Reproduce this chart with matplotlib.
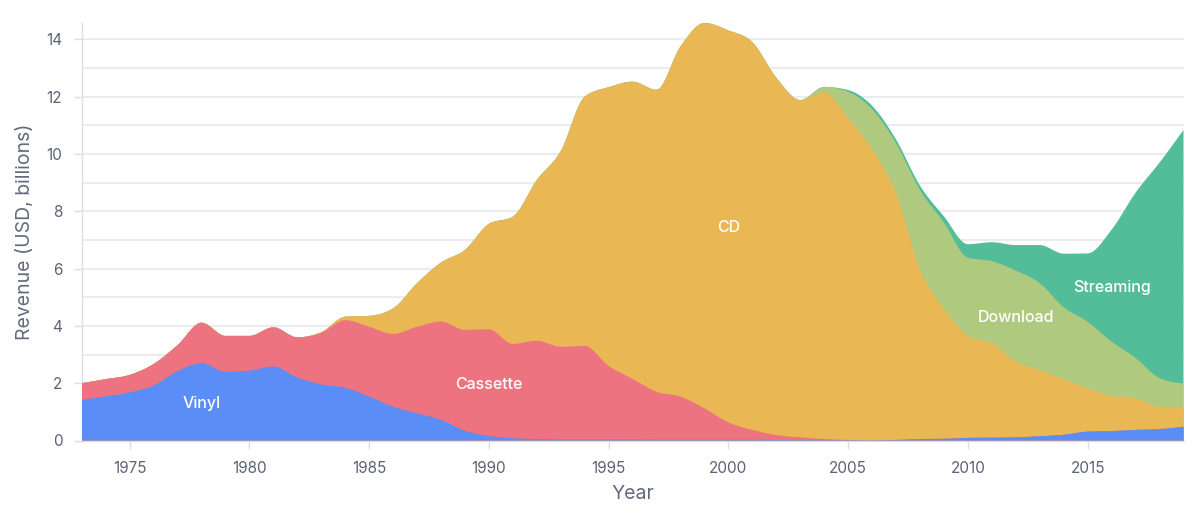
import numpy as np
import matplotlib
matplotlib.use("Agg")
import matplotlib.pyplot as plt

years = list(range(1973, 2020))

vinyl = [1.42, 1.54, 1.68, 1.92, 2.42, 2.70, 2.40, 2.44, 2.58, 2.20,
         1.96, 1.84, 1.53, 1.18, 0.95, 0.72, 0.34, 0.16, 0.08, 0.05,
         0.04, 0.04, 0.04, 0.04, 0.03, 0.03, 0.03, 0.03, 0.03, 0.02,
         0.02, 0.02, 0.01, 0.01, 0.02, 0.05, 0.06, 0.09, 0.10, 0.11,
         0.15, 0.20, 0.31, 0.33, 0.37, 0.40, 0.48]
cassette = [0.58, 0.60, 0.61, 0.75, 0.91, 1.41, 1.25, 1.21, 1.37, 1.40,
            1.80, 2.36, 2.44, 2.54, 3.02, 3.43, 3.52, 3.72, 3.29, 3.43,
            3.23, 3.26, 2.56, 2.11, 1.67, 1.50, 1.09, 0.60, 0.34, 0.17,
            0.09, 0.03, 0.01, 0.00, 0.00, 0.00, 0.00, 0.00, 0.00, 0.00,
            0.00, 0.00, 0.00, 0.00, 0.00, 0.00, 0.00]
cd = [0.00, 0.00, 0.00, 0.00, 0.00, 0.00, 0.00, 0.00, 0.00, 0.00,
      0.02, 0.12, 0.38, 0.89, 1.52, 2.06, 2.79, 3.68, 4.44, 5.61,
      6.83, 8.70, 9.73, 10.37, 10.54, 12.22, 13.45, 13.68, 13.53, 12.47,
      11.77, 12.09, 11.23, 10.14, 8.60, 5.90, 4.54, 3.56, 3.29, 2.64,
      2.31, 1.94, 1.51, 1.22, 1.10, 0.76, 0.67]
download = [0.00, 0.00, 0.00, 0.00, 0.00, 0.00, 0.00, 0.00, 0.00, 0.00,
            0.00, 0.00, 0.00, 0.00, 0.00, 0.00, 0.00, 0.00, 0.00, 0.00,
            0.00, 0.00, 0.00, 0.00, 0.00, 0.00, 0.00, 0.00, 0.00, 0.00,
            0.00, 0.20, 0.92, 1.41, 1.75, 2.79, 3.00, 2.73, 2.87, 3.18,
            3.03, 2.51, 2.32, 1.90, 1.41, 1.02, 0.84]
streaming = [0.00, 0.00, 0.00, 0.00, 0.00, 0.00, 0.00, 0.00, 0.00, 0.00,
             0.00, 0.00, 0.00, 0.00, 0.00, 0.00, 0.00, 0.00, 0.00, 0.00,
             0.00, 0.00, 0.00, 0.00, 0.00, 0.00, 0.00, 0.00, 0.00, 0.00,
             0.00, 0.00, 0.06, 0.12, 0.13, 0.15, 0.22, 0.47, 0.66, 0.89,
             1.33, 1.87, 2.39, 3.91, 5.77, 7.52, 8.85]

series_names = ["Vinyl", "Cassette", "CD", "Download", "Streaming"]
series_values = [vinyl, cassette, cd, download, streaming]
series_colors = ["#5a8df6", "#ed7380", "#e9b753", "#afca7e", "#53bc99"]
label_years = [1978, 1990, 2000, 2012, 2016]

x_ticks = [1975, 1980, 1985, 1990, 1995, 2000, 2005, 2010, 2015]
y_ticks = [0, 2, 4, 6, 8, 10, 12, 14]


def monotone_curve(x, y, n=40):
    """d3.curveMonotoneX-style rendering of a polyline."""
    x = np.asarray(x, float)
    y = np.asarray(y, float)
    m = len(x)
    h = np.diff(x)
    s = np.diff(y) / h
    t = np.zeros(m)
    for i in range(1, m - 1):
        s0, s1 = s[i - 1], s[i]
        h0, h1 = h[i - 1], h[i]
        p = (s0 * h1 + s1 * h0) / (h0 + h1)
        t[i] = (np.sign(s0) + np.sign(s1)) * min(abs(s0), abs(s1), 0.5 * abs(p))
    t[0] = (3 * s[0] - t[1]) / 2 if m > 2 else s[0]
    t[-1] = (3 * s[-1] - t[-2]) / 2 if m > 2 else s[-1]
    xs, ys = [], []
    for i in range(m - 1):
        u = np.linspace(0, 1, n, endpoint=(i == m - 2))
        dx = h[i]
        p0, p3 = y[i], y[i + 1]
        p1 = p0 + dx * t[i] / 3
        p2 = p3 - dx * t[i + 1] / 3
        xx = x[i] + u * dx
        yy = ((1 - u) ** 3) * p0 + 3 * ((1 - u) ** 2) * u * p1 + 3 * (1 - u) * u ** 2 * p2 + u ** 3 * p3
        xs.append(xx)
        ys.append(yy)
    return np.concatenate(xs), np.concatenate(ys)


plt.rcParams["font.family"] = ["Inter", "DejaVu Sans"]

fig = plt.figure(figsize=(12, 5.16), dpi=100)
ax = fig.add_axes([81.8 / 1200, 1 - 440.5 / 516, (1183.5 - 81.8) / 1200, (440.5 - 23) / 516])

cum = np.zeros(len(years))
bounds = [cum.copy()]
for vals in series_values:
    cum = cum + np.asarray(vals, float)
    bounds.append(cum.copy())

curves = [monotone_curve(years, b) for b in bounds]
# draw from the top series down, each filled from the baseline, so no seams appear
for k in range(len(series_names) - 1, -1, -1):
    xs, hi = curves[k + 1]
    ax.fill_between(xs, 0, hi, facecolor=series_colors[k], edgecolor="none",
                    linewidth=0, zorder=2 + (len(series_names) - k) * 0.01,
                    label=series_names[k])

for k, (name, ly) in enumerate(zip(series_names, label_years)):
    i = years.index(ly)
    mid = (bounds[k][i] + bounds[k + 1][i]) / 2
    ax.text(ly, mid, name, color="white", fontsize=11.5, fontweight="medium",
            ha="center", va="center_baseline", zorder=3)

ax.set_xlim(years[0], years[-1])
ax.set_ylim(0, bounds[-1].max())
ax.set_xticks(x_ticks)
ax.set_yticks(y_ticks)
ax.set_yticks([1, 3, 5, 7, 9, 11, 13], minor=True)
ax.yaxis.grid(True, which="both", color="#e8e8f0", linewidth=1.2, zorder=0)
ax.set_axisbelow(True)

tick_col = "#5c6375"
ax.tick_params(axis="both", which="major", length=6, width=1, color="#dcdde6",
               labelcolor=tick_col, labelsize=11)
ax.tick_params(axis="y", which="major", pad=8)
ax.tick_params(axis="x", which="major", pad=9)
ax.tick_params(which="minor", length=0)

for side in ["top", "right"]:
    ax.spines[side].set_visible(False)
for side in ["left", "bottom"]:
    ax.spines[side].set_color("#dcdde6")
    ax.spines[side].set_linewidth(1)
    ax.spines[side].set_zorder(1)

ax.set_xlabel("Year", fontsize=14, color="#636a7c")
ax.set_ylabel("Revenue (USD, billions)", fontsize=14, color="#636a7c")
ax.xaxis.set_label_coords(0.5, (440.5 - 485) / 417.5)
ax.yaxis.set_label_coords((34 - 81.8) / 1101.7, 0.5)

fig.savefig("out.png", dpi=100)
